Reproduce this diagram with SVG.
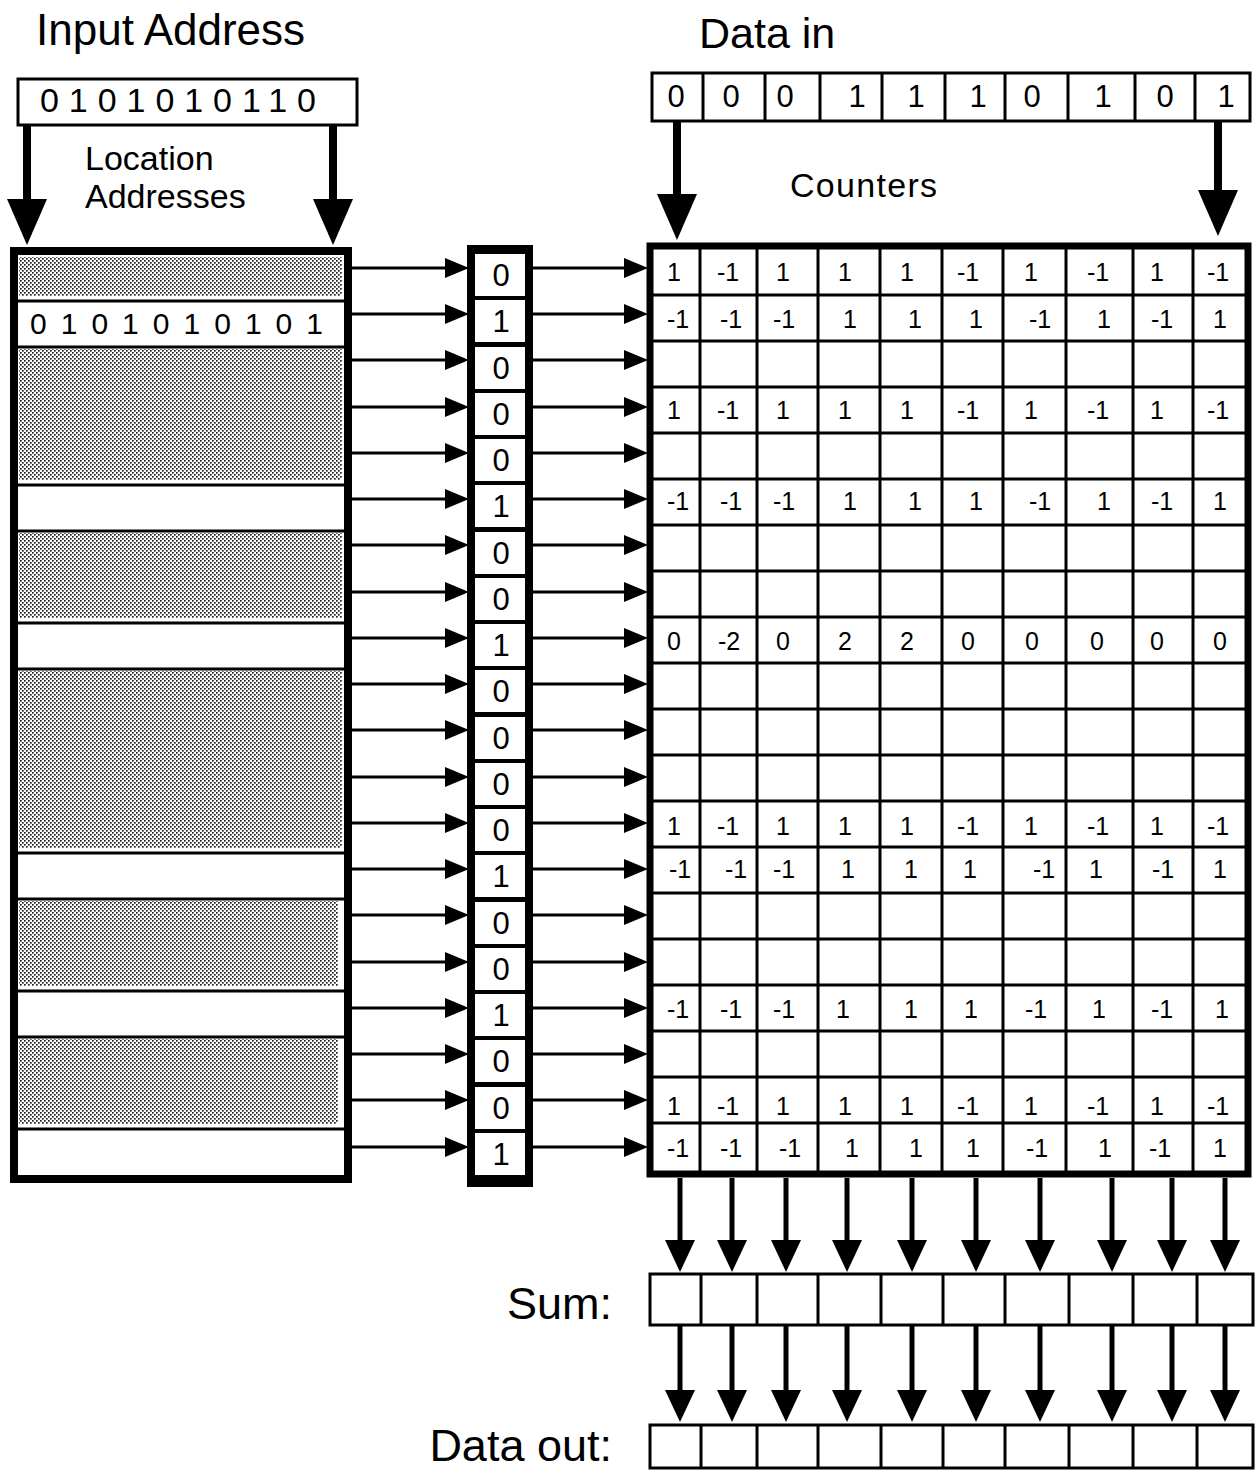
<svg xmlns="http://www.w3.org/2000/svg" width="1257" height="1471" viewBox="0 0 1257 1471">
  <defs>
    <style>
      text { font-family: "Liberation Sans", Arial, sans-serif; fill: #000; }
      .title { font-size: 44px; }
      .label { font-size: 34px; }
      .big { font-size: 45px; }
      .bit { font-size: 31px; text-anchor: middle; }
      .cnt { font-size: 25px; text-anchor: middle; }
      .box { fill: #fff; stroke: #000; stroke-width: 3; }
      .thick { fill: #fff; stroke: #000; stroke-width: 8; }
      .grid { stroke: #000; stroke-width: 3; fill: none; }
      .div { stroke: #000; stroke-width: 3; }
      .wire { stroke: #000; stroke-width: 3; fill: none; marker-end: url(#ah); }
      .feed { stroke: #000; stroke-width: 8; fill: none; marker-end: url(#bigh); }
      .out { stroke: #000; stroke-width: 5; fill: none; marker-end: url(#midh); }
    </style>
    <!-- halftone stipple for unselected memory locations -->
    <pattern id="stipple" width="4" height="4" patternUnits="userSpaceOnUse">
      <rect width="4" height="4" fill="#fff"/>
      <rect x="0" y="0" width="1.7" height="1.7" fill="#222"/>
      <rect x="2" y="2" width="1.7" height="1.7" fill="#222"/>
    </pattern>
    <marker id="ah" viewBox="0 0 24 20" refX="6" refY="10" markerWidth="24" markerHeight="20" markerUnits="userSpaceOnUse" orient="auto">
      <path d="M0,0 L24,10 L0,20 z" fill="#000"/>
    </marker>
    <marker id="bigh" viewBox="0 0 46 40" refX="10" refY="20" markerWidth="46" markerHeight="40" markerUnits="userSpaceOnUse" orient="auto">
      <path d="M0,0 L46,20 L0,40 z" fill="#000"/>
    </marker>
    <marker id="midh" viewBox="0 0 32 30" refX="8" refY="15" markerWidth="32" markerHeight="30" markerUnits="userSpaceOnUse" orient="auto">
      <path d="M0,0 L32,15 L0,30 z" fill="#000"/>
    </marker>
  </defs>

  <rect width="1257" height="1471" fill="#fff"/>

  <!-- headings -->
  <text class="title" x="36" y="45">Input Address</text>
  <text class="title" x="699" y="48" style="font-size:43px">Data in</text>
  <text class="label" x="85" y="170">Location</text>
  <text class="label" x="85" y="208">Addresses</text>
  <text class="label" x="790" y="197" textLength="147">Counters</text>
  <text class="big" x="612" y="1319" text-anchor="end">Sum:</text>
  <text class="big" x="612" y="1461" text-anchor="end">Data out:</text>

  <!-- input address register -->
  <g id="input-address">
    <rect class="box" x="18" y="79" width="339" height="46"/>
    <text x="40" y="112" style="font-size:34px" textLength="276" lengthAdjust="spacing">0101010110</text>
  </g>

  <!-- data-in register -->
  <g id="data-in">
    <rect class="box" x="652" y="73" width="598" height="48"/>
    <path class="grid" d="M703,73V121 M765,73V121 M820,73V121 M882,73V121 M945,73V121 M1005,73V121 M1068,73V121 M1135,73V121 M1195,73V121"/>
    <text class="bit" x="676" y="107">0</text>
    <text class="bit" x="731" y="107">0</text>
    <text class="bit" x="785" y="107">0</text>
    <text class="bit" x="857" y="107">1</text>
    <text class="bit" x="916" y="107">1</text>
    <text class="bit" x="978" y="107">1</text>
    <text class="bit" x="1032" y="107">0</text>
    <text class="bit" x="1103" y="107">1</text>
    <text class="bit" x="1165" y="107">0</text>
    <text class="bit" x="1226" y="107">1</text>
  </g>

  <!-- location addresses: stippled = not selected, white = selected -->
  <g id="location-addresses">
    <rect class="thick" x="14" y="251" width="334" height="928"/>
    <rect x="19" y="257" width="323" height="39" fill="url(#stipple)"/>
    <rect x="19" y="349" width="323" height="131" fill="url(#stipple)"/>
    <rect x="19" y="533" width="323" height="85" fill="url(#stipple)"/>
    <rect x="19" y="671" width="323" height="177" fill="url(#stipple)"/>
    <rect x="19" y="901" width="319" height="85" fill="url(#stipple)"/>
    <rect x="19" y="1039" width="319" height="85" fill="url(#stipple)"/>
    <path class="div" d="M18,301H344 M18,347H344 M18,485H344 M18,531H344 M18,623H344 M18,669H344 M18,853H344 M18,899H344 M18,991H344 M18,1037H344 M18,1129H344"/>
    <text x="30" y="334" style="font-size:30px" textLength="293" lengthAdjust="spacing">0101010101</text>
  </g>

  <!-- select bits -->
  <g id="select-bits">
    <rect x="467" y="245" width="66" height="942" fill="#000"/>
    <rect x="475" y="254" width="50" height="42" fill="#fff"/>
    <rect x="475" y="300" width="50" height="42" fill="#fff"/>
    <rect x="475" y="347" width="50" height="42" fill="#fff"/>
    <rect x="475" y="393" width="50" height="42" fill="#fff"/>
    <rect x="475" y="439" width="50" height="42" fill="#fff"/>
    <rect x="475" y="485" width="50" height="42" fill="#fff"/>
    <rect x="475" y="532" width="50" height="42" fill="#fff"/>
    <rect x="475" y="578" width="50" height="42" fill="#fff"/>
    <rect x="475" y="624" width="50" height="42" fill="#fff"/>
    <rect x="475" y="670" width="50" height="42" fill="#fff"/>
    <rect x="475" y="717" width="50" height="42" fill="#fff"/>
    <rect x="475" y="763" width="50" height="42" fill="#fff"/>
    <rect x="475" y="809" width="50" height="42" fill="#fff"/>
    <rect x="475" y="855" width="50" height="42" fill="#fff"/>
    <rect x="475" y="902" width="50" height="42" fill="#fff"/>
    <rect x="475" y="948" width="50" height="42" fill="#fff"/>
    <rect x="475" y="994" width="50" height="42" fill="#fff"/>
    <rect x="475" y="1040" width="50" height="42" fill="#fff"/>
    <rect x="475" y="1087" width="50" height="42" fill="#fff"/>
    <rect x="475" y="1133" width="50" height="42" fill="#fff"/>
    <text class="bit" x="501" y="286">0</text>
    <text class="bit" x="501" y="332">1</text>
    <text class="bit" x="501" y="379">0</text>
    <text class="bit" x="501" y="425">0</text>
    <text class="bit" x="501" y="471">0</text>
    <text class="bit" x="501" y="517">1</text>
    <text class="bit" x="501" y="564">0</text>
    <text class="bit" x="501" y="610">0</text>
    <text class="bit" x="501" y="656">1</text>
    <text class="bit" x="501" y="702">0</text>
    <text class="bit" x="501" y="749">0</text>
    <text class="bit" x="501" y="795">0</text>
    <text class="bit" x="501" y="841">0</text>
    <text class="bit" x="501" y="887">1</text>
    <text class="bit" x="501" y="934">0</text>
    <text class="bit" x="501" y="980">0</text>
    <text class="bit" x="501" y="1026">1</text>
    <text class="bit" x="501" y="1072">0</text>
    <text class="bit" x="501" y="1119">0</text>
    <text class="bit" x="501" y="1165">1</text>
  </g>

  <!-- counter array -->
  <g id="counters">
    <rect x="650" y="246" width="598" height="928" fill="#fff" stroke="#000" stroke-width="7"/>
    <path class="grid" d="M700,246V1174 M757,246V1174 M818,246V1174 M880,246V1174 M942,246V1174 M1003,246V1174 M1066,246V1174 M1133,246V1174 M1193,246V1174"/>
    <path class="grid" d="M650,295H1248 M650,341H1248 M650,387H1248 M650,433H1248 M650,479H1248 M650,525H1248 M650,571H1248 M650,617H1248 M650,663H1248 M650,709H1248 M650,755H1248 M650,801H1248 M650,847H1248 M650,893H1248 M650,939H1248 M650,985H1248 M650,1031H1248 M650,1077H1248 M650,1123H1248"/>
    <g id="row-0"><text class="cnt" x="674" y="281">1</text><text class="cnt" x="728" y="281">-1</text><text class="cnt" x="783" y="281">1</text><text class="cnt" x="845" y="281">1</text><text class="cnt" x="907" y="281">1</text><text class="cnt" x="968" y="281">-1</text><text class="cnt" x="1031" y="281">1</text><text class="cnt" x="1098" y="281">-1</text><text class="cnt" x="1157" y="281">1</text><text class="cnt" x="1218" y="281">-1</text></g>
    <g id="row-1"><text class="cnt" x="678" y="328">-1</text><text class="cnt" x="731" y="328">-1</text><text class="cnt" x="784" y="328">-1</text><text class="cnt" x="850" y="328">1</text><text class="cnt" x="915" y="328">1</text><text class="cnt" x="976" y="328">1</text><text class="cnt" x="1040" y="328">-1</text><text class="cnt" x="1104" y="328">1</text><text class="cnt" x="1162" y="328">-1</text><text class="cnt" x="1220" y="328">1</text></g>
    <g id="row-3"><text class="cnt" x="674" y="419">1</text><text class="cnt" x="728" y="419">-1</text><text class="cnt" x="783" y="419">1</text><text class="cnt" x="845" y="419">1</text><text class="cnt" x="907" y="419">1</text><text class="cnt" x="968" y="419">-1</text><text class="cnt" x="1031" y="419">1</text><text class="cnt" x="1098" y="419">-1</text><text class="cnt" x="1157" y="419">1</text><text class="cnt" x="1218" y="419">-1</text></g>
    <g id="row-5"><text class="cnt" x="678" y="510">-1</text><text class="cnt" x="731" y="510">-1</text><text class="cnt" x="784" y="510">-1</text><text class="cnt" x="850" y="510">1</text><text class="cnt" x="915" y="510">1</text><text class="cnt" x="976" y="510">1</text><text class="cnt" x="1040" y="510">-1</text><text class="cnt" x="1104" y="510">1</text><text class="cnt" x="1162" y="510">-1</text><text class="cnt" x="1220" y="510">1</text></g>
    <g id="row-8"><text class="cnt" x="674" y="650">0</text><text class="cnt" x="729" y="650">-2</text><text class="cnt" x="783" y="650">0</text><text class="cnt" x="845" y="650">2</text><text class="cnt" x="907" y="650">2</text><text class="cnt" x="968" y="650">0</text><text class="cnt" x="1032" y="650">0</text><text class="cnt" x="1097" y="650">0</text><text class="cnt" x="1157" y="650">0</text><text class="cnt" x="1220" y="650">0</text></g>
    <g id="row-12"><text class="cnt" x="674" y="835">1</text><text class="cnt" x="728" y="835">-1</text><text class="cnt" x="783" y="835">1</text><text class="cnt" x="845" y="835">1</text><text class="cnt" x="907" y="835">1</text><text class="cnt" x="968" y="835">-1</text><text class="cnt" x="1031" y="835">1</text><text class="cnt" x="1098" y="835">-1</text><text class="cnt" x="1157" y="835">1</text><text class="cnt" x="1218" y="835">-1</text></g>
    <g id="row-13"><text class="cnt" x="680" y="878">-1</text><text class="cnt" x="736" y="878">-1</text><text class="cnt" x="784" y="878">-1</text><text class="cnt" x="848" y="878">1</text><text class="cnt" x="911" y="878">1</text><text class="cnt" x="970" y="878">1</text><text class="cnt" x="1044" y="878">-1</text><text class="cnt" x="1096" y="878">1</text><text class="cnt" x="1163" y="878">-1</text><text class="cnt" x="1220" y="878">1</text></g>
    <g id="row-16"><text class="cnt" x="678" y="1018">-1</text><text class="cnt" x="731" y="1018">-1</text><text class="cnt" x="784" y="1018">-1</text><text class="cnt" x="843" y="1018">1</text><text class="cnt" x="911" y="1018">1</text><text class="cnt" x="971" y="1018">1</text><text class="cnt" x="1036" y="1018">-1</text><text class="cnt" x="1099" y="1018">1</text><text class="cnt" x="1162" y="1018">-1</text><text class="cnt" x="1222" y="1018">1</text></g>
    <g id="row-18"><text class="cnt" x="674" y="1115">1</text><text class="cnt" x="728" y="1115">-1</text><text class="cnt" x="783" y="1115">1</text><text class="cnt" x="845" y="1115">1</text><text class="cnt" x="907" y="1115">1</text><text class="cnt" x="968" y="1115">-1</text><text class="cnt" x="1031" y="1115">1</text><text class="cnt" x="1098" y="1115">-1</text><text class="cnt" x="1157" y="1115">1</text><text class="cnt" x="1218" y="1115">-1</text></g>
    <g id="row-19"><text class="cnt" x="678" y="1157">-1</text><text class="cnt" x="731" y="1157">-1</text><text class="cnt" x="790" y="1157">-1</text><text class="cnt" x="852" y="1157">1</text><text class="cnt" x="916" y="1157">1</text><text class="cnt" x="973" y="1157">1</text><text class="cnt" x="1037" y="1157">-1</text><text class="cnt" x="1105" y="1157">1</text><text class="cnt" x="1160" y="1157">-1</text><text class="cnt" x="1220" y="1157">1</text></g>
  </g>

  <!-- sum register -->
  <g id="sum">
    <rect class="box" x="650" y="1274" width="603" height="51"/>
    <path class="grid" d="M701,1274V1325 M757,1274V1325 M818,1274V1325 M881,1274V1325 M943,1274V1325 M1005,1274V1325 M1069,1274V1325 M1133,1274V1325 M1197,1274V1325"/>
  </g>

  <!-- data-out register -->
  <g id="data-out">
    <rect class="box" x="650" y="1425" width="603" height="43"/>
    <path class="grid" d="M701,1425V1468 M757,1425V1468 M818,1425V1468 M881,1425V1468 M943,1425V1468 M1005,1425V1468 M1069,1425V1468 M1133,1425V1468 M1197,1425V1468"/>
  </g>

  <g id="connectors">
    <!-- address fan-out and data fan-out -->
    <path class="feed" d="M27,126V209"/>
    <path class="feed" d="M333,126V209"/>
    <path class="feed" d="M677,122V204"/>
    <path class="feed" d="M1218,122V200"/>

    <!-- location address to select bit -->
    <path class="wire" d="M352,268H451"/>
    <path class="wire" d="M352,314H451"/>
    <path class="wire" d="M352,360H451"/>
    <path class="wire" d="M352,407H451"/>
    <path class="wire" d="M352,453H451"/>
    <path class="wire" d="M352,499H451"/>
    <path class="wire" d="M352,545H451"/>
    <path class="wire" d="M352,592H451"/>
    <path class="wire" d="M352,638H451"/>
    <path class="wire" d="M352,684H451"/>
    <path class="wire" d="M352,730H451"/>
    <path class="wire" d="M352,777H451"/>
    <path class="wire" d="M352,823H451"/>
    <path class="wire" d="M352,869H451"/>
    <path class="wire" d="M352,915H451"/>
    <path class="wire" d="M352,962H451"/>
    <path class="wire" d="M352,1008H451"/>
    <path class="wire" d="M352,1054H451"/>
    <path class="wire" d="M352,1100H451"/>
    <path class="wire" d="M352,1147H451"/>

    <!-- select bit to counter row -->
    <path class="wire" d="M533,268H630"/>
    <path class="wire" d="M533,314H630"/>
    <path class="wire" d="M533,360H630"/>
    <path class="wire" d="M533,407H630"/>
    <path class="wire" d="M533,453H630"/>
    <path class="wire" d="M533,499H630"/>
    <path class="wire" d="M533,545H630"/>
    <path class="wire" d="M533,592H630"/>
    <path class="wire" d="M533,638H630"/>
    <path class="wire" d="M533,684H630"/>
    <path class="wire" d="M533,730H630"/>
    <path class="wire" d="M533,777H630"/>
    <path class="wire" d="M533,823H630"/>
    <path class="wire" d="M533,869H630"/>
    <path class="wire" d="M533,915H630"/>
    <path class="wire" d="M533,962H630"/>
    <path class="wire" d="M533,1008H630"/>
    <path class="wire" d="M533,1054H630"/>
    <path class="wire" d="M533,1100H630"/>
    <path class="wire" d="M533,1147H630"/>

    <!-- counter columns to sum -->
    <path class="out" d="M680,1178V1248"/>
    <path class="out" d="M732,1178V1248"/>
    <path class="out" d="M786,1178V1248"/>
    <path class="out" d="M847,1178V1248"/>
    <path class="out" d="M912,1178V1248"/>
    <path class="out" d="M976,1178V1248"/>
    <path class="out" d="M1040,1178V1248"/>
    <path class="out" d="M1112,1178V1248"/>
    <path class="out" d="M1172,1178V1248"/>
    <path class="out" d="M1225,1178V1248"/>

    <!-- sum to data out -->
    <path class="out" d="M680,1326V1398"/>
    <path class="out" d="M732,1326V1398"/>
    <path class="out" d="M786,1326V1398"/>
    <path class="out" d="M847,1326V1398"/>
    <path class="out" d="M912,1326V1398"/>
    <path class="out" d="M976,1326V1398"/>
    <path class="out" d="M1040,1326V1398"/>
    <path class="out" d="M1112,1326V1398"/>
    <path class="out" d="M1172,1326V1398"/>
    <path class="out" d="M1225,1326V1398"/>
  </g>
</svg>
